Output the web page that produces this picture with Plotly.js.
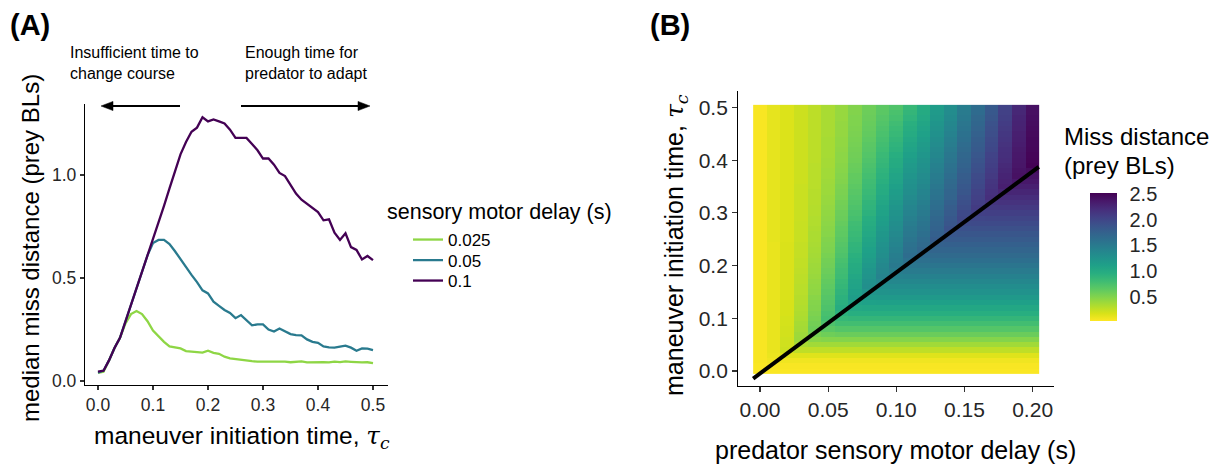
<!DOCTYPE html>
<html>
<head>
<meta charset="utf-8">
<script src="https://cdn.plot.ly/plotly-3.0.1.min.js"></script>
<style>html,body{margin:0;padding:0;background:#fff;}#chart{width:1218px;height:467px;}</style>
</head>
<body>
<div id="chart"></div>
<script>
// ---------- Panel A data ----------
const tauC = [0.00,0.01,0.02,0.03,0.04,0.05,0.06,0.07,0.08,0.09,0.10,0.11,0.12,0.13,0.14,0.15,0.16,0.17,0.18,0.19,0.20,0.21,0.22,0.23,0.24,0.25,0.26,0.27,0.28,0.29,0.30,0.31,0.32,0.33,0.34,0.35,0.36,0.37,0.38,0.39,0.40,0.41,0.42,0.43,0.44,0.45,0.46,0.47,0.48,0.49,0.50];
const delayLabels = ['0.025','0.05','0.1'];
const delayColors = ['#8ED645','#297A8E','#440154'];
const miss025 = [0.04,0.045,0.10,0.16,0.21,0.28,0.325,0.34,0.325,0.29,0.245,0.215,0.19,0.168,0.162,0.158,0.145,0.142,0.14,0.138,0.147,0.137,0.132,0.118,0.11,0.106,0.102,0.099,0.096,0.094,0.094,0.093,0.095,0.092,0.094,0.091,0.092,0.095,0.09,0.091,0.093,0.091,0.09,0.094,0.092,0.095,0.093,0.09,0.09,0.091,0.087];
const miss050 = [0.04,0.05,0.10,0.16,0.21,0.29,0.37,0.45,0.53,0.61,0.67,0.685,0.685,0.665,0.63,0.59,0.55,0.515,0.48,0.44,0.425,0.385,0.365,0.345,0.33,0.305,0.32,0.295,0.27,0.275,0.275,0.25,0.24,0.255,0.24,0.228,0.223,0.222,0.202,0.19,0.185,0.168,0.163,0.162,0.167,0.172,0.162,0.147,0.158,0.157,0.15];
const miss100 = [0.045,0.05,0.10,0.16,0.21,0.29,0.37,0.45,0.53,0.61,0.68,0.765,0.85,0.935,1.02,1.10,1.16,1.21,1.23,1.28,1.26,1.27,1.26,1.25,1.22,1.18,1.18,1.18,1.15,1.12,1.08,1.08,1.05,1.01,0.995,0.95,0.91,0.88,0.86,0.84,0.82,0.78,0.785,0.72,0.685,0.717,0.65,0.636,0.59,0.607,0.587];

// ---------- Panel B data (one column per predator delay, rows = tau_c) ----------
const predDelay = [0.00,0.01,0.02,0.03,0.04,0.05,0.06,0.07,0.08,0.09,0.10,0.11,0.12,0.13,0.14,0.15,0.16,0.17,0.18,0.19,0.20];
const heatD00 = [0.04,0.04,0.05,0.05,0.05,0.05,0.05,0.05,0.05,0.05,0.05,0.05,0.05,0.05,0.05,0.05,0.05,0.05,0.05,0.05,0.05,0.05,0.05,0.05,0.05,0.05,0.05,0.05,0.05,0.05,0.05,0.05,0.05,0.05,0.05,0.05,0.05,0.05,0.05,0.05,0.05,0.05,0.05,0.05,0.05,0.05,0.05,0.05,0.05,0.05,0.05];
const heatD01 = [0.04,0.05,0.08,0.10,0.11,0.11,0.11,0.11,0.11,0.11,0.11,0.11,0.11,0.11,0.11,0.11,0.11,0.11,0.11,0.11,0.11,0.11,0.11,0.11,0.11,0.12,0.12,0.12,0.12,0.12,0.12,0.12,0.12,0.12,0.12,0.12,0.12,0.12,0.12,0.12,0.12,0.12,0.12,0.12,0.12,0.12,0.12,0.12,0.12,0.12,0.12];
const heatD02 = [0.04,0.05,0.08,0.15,0.22,0.21,0.21,0.20,0.20,0.19,0.19,0.18,0.18,0.18,0.17,0.17,0.17,0.17,0.17,0.17,0.17,0.17,0.17,0.17,0.17,0.16,0.16,0.16,0.16,0.16,0.16,0.16,0.16,0.16,0.16,0.16,0.16,0.16,0.16,0.16,0.16,0.16,0.16,0.16,0.16,0.16,0.16,0.16,0.16,0.16,0.16];
const heatD03 = [0.04,0.05,0.08,0.15,0.27,0.35,0.40,0.39,0.37,0.36,0.34,0.33,0.32,0.31,0.30,0.29,0.29,0.28,0.28,0.27,0.26,0.26,0.25,0.25,0.25,0.24,0.24,0.24,0.24,0.23,0.23,0.23,0.23,0.23,0.23,0.23,0.22,0.22,0.22,0.22,0.22,0.22,0.22,0.22,0.22,0.22,0.22,0.22,0.22,0.22,0.22];
const heatD04 = [0.04,0.05,0.08,0.15,0.27,0.38,0.47,0.54,0.58,0.56,0.54,0.52,0.50,0.49,0.47,0.45,0.44,0.43,0.41,0.40,0.39,0.38,0.37,0.36,0.35,0.34,0.34,0.33,0.32,0.32,0.31,0.31,0.30,0.30,0.30,0.29,0.29,0.29,0.29,0.29,0.28,0.28,0.28,0.28,0.28,0.28,0.28,0.28,0.28,0.28,0.28];
const heatD05 = [0.04,0.05,0.08,0.15,0.27,0.38,0.49,0.58,0.66,0.73,0.78,0.76,0.73,0.71,0.69,0.67,0.65,0.63,0.61,0.59,0.57,0.56,0.54,0.52,0.51,0.50,0.48,0.47,0.46,0.45,0.44,0.43,0.42,0.41,0.40,0.40,0.39,0.38,0.38,0.37,0.37,0.36,0.36,0.36,0.36,0.35,0.35,0.35,0.35,0.35,0.35];
const heatD06 = [0.04,0.05,0.08,0.15,0.27,0.38,0.49,0.60,0.70,0.79,0.86,0.93,0.98,0.95,0.93,0.90,0.87,0.85,0.82,0.80,0.78,0.76,0.73,0.71,0.69,0.67,0.65,0.64,0.62,0.60,0.59,0.57,0.56,0.54,0.53,0.52,0.50,0.49,0.48,0.47,0.46,0.46,0.45,0.44,0.44,0.43,0.43,0.43,0.42,0.42,0.42];
const heatD07 = [0.04,0.05,0.08,0.15,0.27,0.38,0.49,0.60,0.70,0.79,0.88,0.96,1.03,1.09,1.15,1.12,1.09,1.07,1.04,1.01,0.99,0.96,0.94,0.91,0.89,0.86,0.84,0.82,0.80,0.77,0.75,0.73,0.71,0.70,0.68,0.66,0.64,0.63,0.61,0.60,0.58,0.57,0.56,0.55,0.54,0.53,0.52,0.51,0.51,0.50,0.50];
const heatD08 = [0.04,0.05,0.08,0.15,0.27,0.38,0.49,0.60,0.70,0.79,0.88,0.96,1.04,1.11,1.18,1.24,1.30,1.27,1.24,1.22,1.19,1.16,1.13,1.11,1.08,1.06,1.03,1.01,0.98,0.96,0.93,0.91,0.89,0.86,0.84,0.82,0.80,0.78,0.76,0.74,0.72,0.70,0.68,0.67,0.65,0.63,0.62,0.61,0.60,0.59,0.58];
const heatD09 = [0.04,0.05,0.08,0.15,0.27,0.38,0.49,0.60,0.70,0.79,0.88,0.96,1.04,1.12,1.19,1.25,1.31,1.37,1.42,1.39,1.37,1.34,1.31,1.29,1.26,1.23,1.21,1.18,1.15,1.13,1.10,1.08,1.05,1.03,1.00,0.98,0.95,0.93,0.91,0.88,0.86,0.84,0.81,0.79,0.77,0.75,0.73,0.71,0.69,0.67,0.66];
const heatD10 = [0.04,0.05,0.08,0.15,0.27,0.38,0.49,0.60,0.70,0.79,0.88,0.96,1.04,1.12,1.19,1.26,1.32,1.38,1.43,1.48,1.52,1.49,1.47,1.44,1.41,1.39,1.36,1.33,1.31,1.28,1.25,1.23,1.20,1.17,1.15,1.12,1.09,1.07,1.04,1.01,0.99,0.96,0.93,0.91,0.88,0.85,0.83,0.80,0.77,0.75,0.72];
const heatD11 = [0.04,0.05,0.08,0.15,0.27,0.38,0.49,0.60,0.70,0.79,0.88,0.96,1.04,1.12,1.19,1.26,1.32,1.38,1.44,1.50,1.55,1.60,1.64,1.61,1.59,1.56,1.53,1.51,1.48,1.45,1.42,1.40,1.37,1.34,1.31,1.29,1.26,1.23,1.20,1.18,1.15,1.12,1.09,1.06,1.03,1.00,0.97,0.95,0.91,0.88,0.85];
const heatD12 = [0.04,0.05,0.08,0.15,0.27,0.38,0.49,0.60,0.70,0.79,0.88,0.96,1.04,1.12,1.19,1.26,1.32,1.38,1.44,1.50,1.56,1.61,1.66,1.70,1.67,1.65,1.62,1.59,1.57,1.54,1.51,1.49,1.46,1.43,1.41,1.38,1.35,1.33,1.30,1.27,1.25,1.22,1.19,1.17,1.14,1.11,1.09,1.06,1.03,1.01,0.98];
const heatD13 = [0.04,0.05,0.08,0.15,0.27,0.38,0.49,0.60,0.70,0.79,0.88,0.96,1.04,1.12,1.19,1.26,1.32,1.38,1.44,1.50,1.56,1.62,1.67,1.72,1.76,1.80,1.77,1.75,1.72,1.70,1.67,1.64,1.62,1.59,1.57,1.54,1.51,1.49,1.46,1.44,1.41,1.38,1.36,1.33,1.31,1.28,1.25,1.23,1.20,1.18,1.15];
const heatD14 = [0.04,0.05,0.08,0.15,0.27,0.38,0.49,0.60,0.70,0.79,0.88,0.96,1.04,1.12,1.19,1.26,1.32,1.38,1.44,1.50,1.56,1.62,1.67,1.72,1.77,1.82,1.86,1.90,1.87,1.85,1.82,1.80,1.77,1.74,1.72,1.69,1.67,1.64,1.61,1.59,1.56,1.54,1.51,1.48,1.46,1.43,1.40,1.38,1.35,1.33,1.30];
const heatD15 = [0.04,0.05,0.08,0.15,0.27,0.38,0.49,0.60,0.70,0.79,0.88,0.96,1.04,1.12,1.19,1.26,1.32,1.38,1.44,1.50,1.56,1.62,1.67,1.72,1.77,1.82,1.87,1.91,1.96,2.00,1.98,1.95,1.92,1.90,1.87,1.85,1.82,1.80,1.77,1.75,1.72,1.70,1.67,1.65,1.62,1.60,1.57,1.55,1.52,1.50,1.47];
const heatD16 = [0.04,0.05,0.08,0.15,0.27,0.38,0.49,0.60,0.70,0.79,0.88,0.96,1.04,1.12,1.19,1.26,1.32,1.38,1.44,1.50,1.56,1.62,1.67,1.72,1.77,1.82,1.87,1.92,1.97,2.01,2.06,2.10,2.08,2.05,2.03,2.00,1.98,1.96,1.93,1.91,1.88,1.86,1.83,1.81,1.79,1.76,1.74,1.71,1.69,1.66,1.64];
const heatD17 = [0.04,0.05,0.08,0.15,0.27,0.38,0.49,0.60,0.70,0.79,0.88,0.96,1.04,1.12,1.19,1.26,1.32,1.38,1.44,1.50,1.56,1.62,1.67,1.72,1.77,1.82,1.87,1.92,1.97,2.02,2.07,2.11,2.16,2.20,2.18,2.16,2.14,2.11,2.09,2.07,2.05,2.03,2.00,1.98,1.96,1.94,1.92,1.90,1.87,1.85,1.83];
const heatD18 = [0.04,0.05,0.08,0.15,0.27,0.38,0.49,0.60,0.70,0.79,0.88,0.96,1.04,1.12,1.19,1.26,1.32,1.38,1.44,1.50,1.56,1.62,1.67,1.72,1.77,1.82,1.87,1.92,1.97,2.02,2.07,2.12,2.17,2.22,2.27,2.32,2.30,2.28,2.26,2.24,2.22,2.20,2.19,2.17,2.15,2.13,2.11,2.09,2.07,2.05,2.03];
const heatD19 = [0.04,0.05,0.08,0.15,0.27,0.38,0.49,0.60,0.70,0.79,0.88,0.96,1.04,1.12,1.19,1.26,1.32,1.38,1.44,1.50,1.56,1.62,1.67,1.72,1.77,1.82,1.87,1.92,1.97,2.02,2.07,2.12,2.17,2.22,2.27,2.32,2.37,2.42,2.41,2.39,2.38,2.37,2.36,2.34,2.33,2.32,2.30,2.29,2.28,2.26,2.25];
const heatD20 = [0.04,0.05,0.08,0.15,0.27,0.38,0.49,0.60,0.70,0.79,0.88,0.96,1.04,1.12,1.19,1.26,1.32,1.38,1.44,1.50,1.56,1.62,1.67,1.72,1.77,1.82,1.87,1.92,1.97,2.02,2.07,2.12,2.17,2.22,2.27,2.32,2.37,2.41,2.45,2.52,2.51,2.50,2.49,2.48,2.48,2.47,2.46,2.45,2.44,2.43,2.42];
// optimal-timing line (predator delay vs tau_c)
const lineDelay = [-0.005, 0.2045];
const lineTau = [-0.0145, 0.3875];
// colour bar
const cbTicks = [0.5, 1.0, 1.5, 2.0, 2.5];
const cbTickText = ['0.5', '1.0', '1.5', '2.0', '2.5'];
const zMin = 0.03, zMax = 2.53;

const heatColumns = [heatD00,heatD01,heatD02,heatD03,heatD04,heatD05,heatD06,heatD07,heatD08,heatD09,heatD10,heatD11,heatD12,heatD13,heatD14,heatD15,heatD16,heatD17,heatD18,heatD19,heatD20];
const zRows = tauC.map((_, r) => heatColumns.map(col => col[r]));

const FONT = 'Liberation Sans, Arial, Helvetica, sans-serif';
const TICKC = '#262626';
const W = 1218, H = 467;
const px = v => v / W;
const py = v => 1 - v / H;
const tauHtml = "<span style=\"font-family:'DejaVu Serif',serif\"><i>τ<sub>c</sub></i></span>";

// colour bar geometry (pixels)
const CB_LEFT = 1090, CB_TOP = 192.7, CB_LEN = 128.3, CB_THICK = 26.7;

const seriesA = [miss025, miss050, miss100];
const legendIds = ['legend', 'legend2', 'legend3'];
const traces = seriesA.map((ys, i) => ({
  type: 'scatter', mode: 'lines', x: tauC, y: ys, name: delayLabels[i], legend: legendIds[i],
  line: {color: delayColors[i], width: 2.3}, xaxis: 'x', yaxis: 'y', hoverinfo: 'skip'
}));
traces.push({
  type: 'heatmap', x: predDelay, y: tauC, z: zRows, xaxis: 'x2', yaxis: 'y2',
  colorscale: 'Viridis', reversescale: true, zmin: zMin, zmax: zMax, showlegend: false,
  colorbar: {
    x: px(CB_LEFT), xanchor: 'left', y: py(CB_TOP), yanchor: 'top',
    len: CB_LEN, lenmode: 'pixels', thickness: CB_THICK, thicknessmode: 'pixels',
    outlinewidth: 0, xpad: 0, ypad: 0, ticks: 'outside', ticklen: 9, tickcolor: 'rgba(0,0,0,0)', tickwidth: 1,
    tickvals: cbTicks, ticktext: cbTickText,
    tickfont: {family: FONT, size: 20, color: TICKC}
  }
});
traces.push({
  type: 'scatter', mode: 'lines', x: lineDelay, y: lineTau, xaxis: 'x2', yaxis: 'y2',
  line: {color: '#000', width: 4}, showlegend: false, hoverinfo: 'skip'
});

const axBase = {
  showgrid: false, zeroline: false, showline: true, linecolor: '#000', linewidth: 1.2,
  ticks: 'outside', tickcolor: '#333', tickwidth: 1.1, fixedrange: true
};

const annText = (text, x, y, size, opts) => Object.assign({
  text: text, xref: 'paper', yref: 'paper', x: px(x), y: py(y), showarrow: false,
  font: {family: FONT, size: size, color: '#000'}, xanchor: 'center', yanchor: 'middle'
}, opts || {});

const legBase = (yc) => ({x: px(408), y: py(yc), xanchor: 'left', yanchor: 'middle', bgcolor: 'rgba(0,0,0,0)',
  font: {family: FONT, size: 17, color: '#000'}, itemclick: false, itemdoubleclick: false});

// arrow decorations (paper coords)
const arrowLine = (x0, x1, y) => ({type: 'line', xref: 'paper', yref: 'paper', x0: px(x0), x1: px(x1), y0: py(y), y1: py(y),
  line: {color: '#000', width: 2}});
const arrowHead = (tip, back, y) => ({type: 'path', xref: 'paper', yref: 'paper',
  path: 'M' + px(tip) + ',' + py(y) + ' L' + px(back) + ',' + py(y - 4.6) + ' L' + px(back) + ',' + py(y + 4.6) + ' Z',
  fillcolor: '#000', line: {color: '#000', width: 0.5}});
// white tick marks inside the colour bar (both edges), placed on the bar's value scale
const cbTickY = v => CB_TOP + (zMax - v) / (zMax - zMin) * CB_LEN;
const cbTickShapes = [];
cbTicks.forEach(v => {
  [[CB_LEFT, CB_LEFT + 5], [CB_LEFT + CB_THICK - 5, CB_LEFT + CB_THICK]].forEach(([a, b]) => {
    cbTickShapes.push({type: 'line', xref: 'paper', yref: 'paper', x0: px(a), x1: px(b), y0: py(cbTickY(v)), y1: py(cbTickY(v)),
      line: {color: 'rgba(255,255,255,0.85)', width: 1}});
  });
});

const layout = {
  width: W, height: H, margin: {l: 0, r: 0, t: 0, b: 0},
  paper_bgcolor: '#fff', plot_bgcolor: 'rgba(0,0,0,0)',
  font: {family: FONT, color: '#000'},
  showlegend: true,
  legend: legBase(240), legend2: legBase(260.5), legend3: legBase(281),
  xaxis: Object.assign({}, axBase, {domain: [px(85), px(388)], range: [-0.02364, 0.52727], anchor: 'y',
    tickvals: [0,0.1,0.2,0.3,0.4,0.5], ticktext: ['0.0','0.1','0.2','0.3','0.4','0.5'], ticklen: 4,
    tickfont: {family: FONT, size: 17.5, color: TICKC}}),
  yaxis: Object.assign({}, axBase, {domain: [py(385), py(104)], range: [-0.01942, 1.34466], anchor: 'x',
    tickvals: [0,0.5,1.0], ticktext: ['0.0','0.5','1.0'], ticklen: 4,
    tickfont: {family: FONT, size: 17.5, color: TICKC}}),
  xaxis2: Object.assign({}, axBase, {domain: [px(738.3), px(1053.9)], range: [-0.0159, 0.2156], anchor: 'y2',
    tickvals: [0,0.05,0.1,0.15,0.2], ticktext: ['0.00','0.05','0.10','0.15','0.20'], ticklen: 5,
    tickfont: {family: FONT, size: 21, color: TICKC}}),
  yaxis2: Object.assign({}, axBase, {domain: [py(386), py(91)], range: [-0.02846, 0.53131], anchor: 'x2',
    tickvals: [0,0.1,0.2,0.3,0.4,0.5], ticktext: ['0.0','0.1','0.2','0.3','0.4','0.5'], ticklen: 5,
    tickfont: {family: FONT, size: 21, color: TICKC}}),
  shapes: [
    arrowLine(111, 180, 106), arrowHead(101, 113, 106),
    arrowLine(241, 360, 106), arrowHead(370, 358, 106)
  ].concat(cbTickShapes),
  annotations: [
    annText('<b>(A)</b>', 8, 25, 29, {xanchor: 'left'}),
    annText('<b>(B)</b>', 648, 25, 29, {xanchor: 'left'}),
    annText('Insufficient time to<br>change course', 68, 42, 16, {xanchor: 'left', yanchor: 'top', align: 'left'}),
    annText('Enough time for<br>predator to adapt', 243, 42, 16, {xanchor: 'left', yanchor: 'top', align: 'left'}),
    annText('maneuver initiation time, ' + tauHtml, 242, 437, 24.5),
    annText('median miss distance (prey BLs)', 30, 248, 24, {textangle: -90}),
    annText('predator sensory motor delay (s)', 895, 450, 25),
    annText('maneuver initiation time, ' + tauHtml, 676, 245, 25, {textangle: -90}),
    annText('sensory motor delay (s)', 385, 212, 21.5, {xanchor: 'left'}),
    annText('Miss distance', 1062, 136, 24, {xanchor: 'left'}),
    annText('(prey BLs)', 1062, 165, 24, {xanchor: 'left'})
  ]
};

Plotly.newPlot('chart', traces, layout, {displayModeBar: false, staticPlot: true});
</script>
</body>
</html>
